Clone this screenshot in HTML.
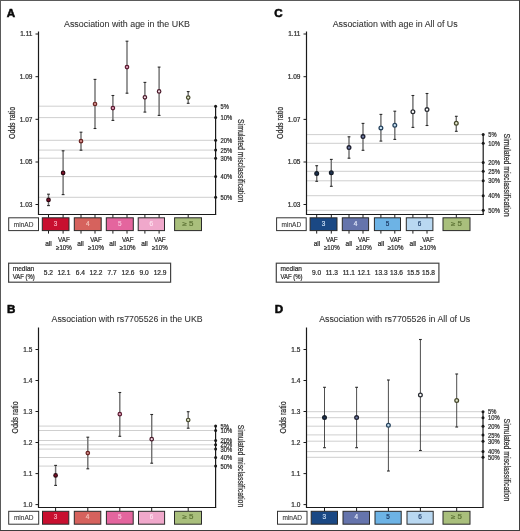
<!DOCTYPE html>
<html><head><meta charset="utf-8"><style>
html,body{margin:0;padding:0;background:#fff;}
body{width:520px;height:531px;overflow:hidden;}
svg{display:block;font-family:"Liberation Sans", sans-serif;will-change:transform;}
</style></head><body>
<svg width="520" height="531" viewBox="0 0 520 531">
<rect x="0" y="0" width="520" height="531" fill="#fff"/>
<text x="6.7" y="16.8" font-size="11.6" text-anchor="start" fill="#0a0a0a" font-weight="bold" stroke="#0a0a0a" stroke-width="0.55">A</text>
<text x="64" y="26.6" font-size="8.9" text-anchor="start" fill="#333" font-weight="normal" textLength="126" lengthAdjust="spacingAndGlyphs" stroke="#333" stroke-width="0.08">Association with age in the UKB</text>
<line x1="38.5" y1="106.2" x2="215.6" y2="106.2" stroke="#c9c9c9" stroke-width="0.9"/>
<line x1="38.5" y1="117.6" x2="215.6" y2="117.6" stroke="#c9c9c9" stroke-width="0.9"/>
<line x1="38.5" y1="140.3" x2="215.6" y2="140.3" stroke="#c9c9c9" stroke-width="0.9"/>
<line x1="38.5" y1="150.1" x2="215.6" y2="150.1" stroke="#c9c9c9" stroke-width="0.9"/>
<line x1="38.5" y1="158.2" x2="215.6" y2="158.2" stroke="#c9c9c9" stroke-width="0.9"/>
<line x1="38.5" y1="176.6" x2="215.6" y2="176.6" stroke="#c9c9c9" stroke-width="0.9"/>
<line x1="38.5" y1="197.3" x2="215.6" y2="197.3" stroke="#c9c9c9" stroke-width="0.9"/>
<line x1="35.5" y1="34" x2="38.5" y2="34" stroke="#1a1a1a" stroke-width="1"/>
<text x="32.4" y="36.3" font-size="6.5" text-anchor="end" fill="#2e2e2e" font-weight="normal" stroke="#2e2e2e" stroke-width="0.22">1.11</text>
<line x1="35.5" y1="76.7" x2="38.5" y2="76.7" stroke="#1a1a1a" stroke-width="1"/>
<text x="32.4" y="79.0" font-size="6.5" text-anchor="end" fill="#2e2e2e" font-weight="normal" stroke="#2e2e2e" stroke-width="0.22">1.09</text>
<line x1="35.5" y1="119.3" x2="38.5" y2="119.3" stroke="#1a1a1a" stroke-width="1"/>
<text x="32.4" y="121.6" font-size="6.5" text-anchor="end" fill="#2e2e2e" font-weight="normal" stroke="#2e2e2e" stroke-width="0.22">1.07</text>
<line x1="35.5" y1="162" x2="38.5" y2="162" stroke="#1a1a1a" stroke-width="1"/>
<text x="32.4" y="164.3" font-size="6.5" text-anchor="end" fill="#2e2e2e" font-weight="normal" stroke="#2e2e2e" stroke-width="0.22">1.05</text>
<line x1="35.5" y1="204.5" x2="38.5" y2="204.5" stroke="#1a1a1a" stroke-width="1"/>
<text x="32.4" y="206.8" font-size="6.5" text-anchor="end" fill="#2e2e2e" font-weight="normal" stroke="#2e2e2e" stroke-width="0.22">1.03</text>
<line x1="48.5" y1="194.2" x2="48.5" y2="205.6" stroke="#727272" stroke-width="1.45"/>
<line x1="47.1" y1="194.2" x2="49.9" y2="194.2" stroke="#2a2a2a" stroke-width="1.1"/>
<line x1="47.1" y1="205.6" x2="49.9" y2="205.6" stroke="#2a2a2a" stroke-width="1.1"/>
<line x1="63.1" y1="150.8" x2="63.1" y2="194.6" stroke="#727272" stroke-width="1.45"/>
<line x1="61.7" y1="150.8" x2="64.5" y2="150.8" stroke="#2a2a2a" stroke-width="1.1"/>
<line x1="61.7" y1="194.6" x2="64.5" y2="194.6" stroke="#2a2a2a" stroke-width="1.1"/>
<line x1="81.0" y1="132.2" x2="81.0" y2="150.2" stroke="#727272" stroke-width="1.45"/>
<line x1="79.6" y1="132.2" x2="82.4" y2="132.2" stroke="#2a2a2a" stroke-width="1.1"/>
<line x1="79.6" y1="150.2" x2="82.4" y2="150.2" stroke="#2a2a2a" stroke-width="1.1"/>
<line x1="95.0" y1="79.4" x2="95.0" y2="128.5" stroke="#727272" stroke-width="1.45"/>
<line x1="93.6" y1="79.4" x2="96.4" y2="79.4" stroke="#2a2a2a" stroke-width="1.1"/>
<line x1="93.6" y1="128.5" x2="96.4" y2="128.5" stroke="#2a2a2a" stroke-width="1.1"/>
<line x1="112.9" y1="95.5" x2="112.9" y2="120.4" stroke="#727272" stroke-width="1.45"/>
<line x1="111.5" y1="95.5" x2="114.30000000000001" y2="95.5" stroke="#2a2a2a" stroke-width="1.1"/>
<line x1="111.5" y1="120.4" x2="114.30000000000001" y2="120.4" stroke="#2a2a2a" stroke-width="1.1"/>
<line x1="127.0" y1="41.2" x2="127.0" y2="93.2" stroke="#727272" stroke-width="1.45"/>
<line x1="125.6" y1="41.2" x2="128.4" y2="41.2" stroke="#2a2a2a" stroke-width="1.1"/>
<line x1="125.6" y1="93.2" x2="128.4" y2="93.2" stroke="#2a2a2a" stroke-width="1.1"/>
<line x1="144.9" y1="82.4" x2="144.9" y2="112.1" stroke="#727272" stroke-width="1.45"/>
<line x1="143.5" y1="82.4" x2="146.3" y2="82.4" stroke="#2a2a2a" stroke-width="1.1"/>
<line x1="143.5" y1="112.1" x2="146.3" y2="112.1" stroke="#2a2a2a" stroke-width="1.1"/>
<line x1="159.1" y1="67.1" x2="159.1" y2="115.4" stroke="#727272" stroke-width="1.45"/>
<line x1="157.7" y1="67.1" x2="160.5" y2="67.1" stroke="#2a2a2a" stroke-width="1.1"/>
<line x1="157.7" y1="115.4" x2="160.5" y2="115.4" stroke="#2a2a2a" stroke-width="1.1"/>
<line x1="188.2" y1="91.6" x2="188.2" y2="103.3" stroke="#727272" stroke-width="1.45"/>
<line x1="186.79999999999998" y1="91.6" x2="189.6" y2="91.6" stroke="#2a2a2a" stroke-width="1.1"/>
<line x1="186.79999999999998" y1="103.3" x2="189.6" y2="103.3" stroke="#2a2a2a" stroke-width="1.1"/>
<circle cx="48.5" cy="199.9" r="1.75" fill="#85122b" stroke="#2a0610" stroke-width="1.2"/>
<circle cx="63.1" cy="172.9" r="1.75" fill="#85122b" stroke="#2a0610" stroke-width="1.2"/>
<circle cx="81.0" cy="141.2" r="1.75" fill="#d08a88" stroke="#6a2422" stroke-width="1.2"/>
<circle cx="95.0" cy="104.0" r="1.75" fill="#d08a88" stroke="#6a2422" stroke-width="1.2"/>
<circle cx="112.9" cy="108.1" r="1.75" fill="#e2a2ba" stroke="#5a1a30" stroke-width="1.2"/>
<circle cx="127.0" cy="67.1" r="1.75" fill="#e2a2ba" stroke="#5a1a30" stroke-width="1.2"/>
<circle cx="144.9" cy="97.3" r="1.75" fill="#f5dde6" stroke="#4a1a2a" stroke-width="1.2"/>
<circle cx="159.1" cy="91.4" r="1.75" fill="#f5dde6" stroke="#4a1a2a" stroke-width="1.2"/>
<circle cx="188.2" cy="97.6" r="1.75" fill="#e6ebd0" stroke="#44462a" stroke-width="1.2"/>
<line x1="38.5" y1="31.5" x2="38.5" y2="215.0" stroke="#1a1a1a" stroke-width="1.2"/>
<line x1="38.0" y1="214.5" x2="216.2" y2="214.5" stroke="#1a1a1a" stroke-width="1.2"/>
<line x1="215.6" y1="106.2" x2="215.6" y2="214.5" stroke="#1a1a1a" stroke-width="1.2"/>
<circle cx="215.6" cy="106.2" r="1.5" fill="#1a1a1a" stroke="none" stroke-width="0"/>
<circle cx="215.6" cy="117.6" r="1.5" fill="#1a1a1a" stroke="none" stroke-width="0"/>
<circle cx="215.6" cy="140.3" r="1.5" fill="#1a1a1a" stroke="none" stroke-width="0"/>
<circle cx="215.6" cy="150.1" r="1.5" fill="#1a1a1a" stroke="none" stroke-width="0"/>
<circle cx="215.6" cy="158.2" r="1.5" fill="#1a1a1a" stroke="none" stroke-width="0"/>
<circle cx="215.6" cy="176.6" r="1.5" fill="#1a1a1a" stroke="none" stroke-width="0"/>
<circle cx="215.6" cy="197.3" r="1.5" fill="#1a1a1a" stroke="none" stroke-width="0"/>
<text x="220.6" y="108.8" font-size="6.6" text-anchor="start" fill="#2e2e2e" font-weight="normal" textLength="8.3" lengthAdjust="spacingAndGlyphs" stroke="#2e2e2e" stroke-width="0.22">5%</text>
<text x="220.6" y="120.19999999999999" font-size="6.6" text-anchor="start" fill="#2e2e2e" font-weight="normal" textLength="11.7" lengthAdjust="spacingAndGlyphs" stroke="#2e2e2e" stroke-width="0.22">10%</text>
<text x="220.6" y="142.9" font-size="6.6" text-anchor="start" fill="#2e2e2e" font-weight="normal" textLength="11.7" lengthAdjust="spacingAndGlyphs" stroke="#2e2e2e" stroke-width="0.22">20%</text>
<text x="220.6" y="152.7" font-size="6.6" text-anchor="start" fill="#2e2e2e" font-weight="normal" textLength="11.7" lengthAdjust="spacingAndGlyphs" stroke="#2e2e2e" stroke-width="0.22">25%</text>
<text x="220.6" y="160.79999999999998" font-size="6.6" text-anchor="start" fill="#2e2e2e" font-weight="normal" textLength="11.7" lengthAdjust="spacingAndGlyphs" stroke="#2e2e2e" stroke-width="0.22">30%</text>
<text x="220.6" y="179.2" font-size="6.6" text-anchor="start" fill="#2e2e2e" font-weight="normal" textLength="11.7" lengthAdjust="spacingAndGlyphs" stroke="#2e2e2e" stroke-width="0.22">40%</text>
<text x="220.6" y="199.9" font-size="6.6" text-anchor="start" fill="#2e2e2e" font-weight="normal" textLength="11.7" lengthAdjust="spacingAndGlyphs" stroke="#2e2e2e" stroke-width="0.22">50%</text>
<text x="0" y="0" font-size="8.7" fill="#2e2e2e" stroke="#2e2e2e" stroke-width="0.22" text-anchor="middle" transform="translate(14.9,123) rotate(-90)" textLength="32" lengthAdjust="spacingAndGlyphs">Odds ratio</text>
<text x="0" y="0" font-size="9" fill="#2e2e2e" stroke="#2e2e2e" stroke-width="0.22" text-anchor="middle" transform="translate(238.0,160.5) rotate(90)" textLength="83" lengthAdjust="spacingAndGlyphs">Simulated misclassification</text>
<line x1="48.5" y1="214.5" x2="48.5" y2="217.8" stroke="#1a1a1a" stroke-width="1"/>
<line x1="63.1" y1="214.5" x2="63.1" y2="217.8" stroke="#1a1a1a" stroke-width="1"/>
<line x1="81.0" y1="214.5" x2="81.0" y2="217.8" stroke="#1a1a1a" stroke-width="1"/>
<line x1="95.0" y1="214.5" x2="95.0" y2="217.8" stroke="#1a1a1a" stroke-width="1"/>
<line x1="112.9" y1="214.5" x2="112.9" y2="217.8" stroke="#1a1a1a" stroke-width="1"/>
<line x1="127.0" y1="214.5" x2="127.0" y2="217.8" stroke="#1a1a1a" stroke-width="1"/>
<line x1="144.9" y1="214.5" x2="144.9" y2="217.8" stroke="#1a1a1a" stroke-width="1"/>
<line x1="159.1" y1="214.5" x2="159.1" y2="217.8" stroke="#1a1a1a" stroke-width="1"/>
<line x1="188.2" y1="214.5" x2="188.2" y2="217.8" stroke="#1a1a1a" stroke-width="1"/>
<line x1="48.5" y1="230.60000000000002" x2="48.5" y2="233.60000000000002" stroke="#1a1a1a" stroke-width="1"/>
<line x1="63.1" y1="230.60000000000002" x2="63.1" y2="233.60000000000002" stroke="#1a1a1a" stroke-width="1"/>
<line x1="81.0" y1="230.60000000000002" x2="81.0" y2="233.60000000000002" stroke="#1a1a1a" stroke-width="1"/>
<line x1="95.0" y1="230.60000000000002" x2="95.0" y2="233.60000000000002" stroke="#1a1a1a" stroke-width="1"/>
<line x1="112.9" y1="230.60000000000002" x2="112.9" y2="233.60000000000002" stroke="#1a1a1a" stroke-width="1"/>
<line x1="127.0" y1="230.60000000000002" x2="127.0" y2="233.60000000000002" stroke="#1a1a1a" stroke-width="1"/>
<line x1="144.9" y1="230.60000000000002" x2="144.9" y2="233.60000000000002" stroke="#1a1a1a" stroke-width="1"/>
<line x1="159.1" y1="230.60000000000002" x2="159.1" y2="233.60000000000002" stroke="#1a1a1a" stroke-width="1"/>
<rect x="8.7" y="217.8" width="29.8" height="12.8" fill="#fff" stroke="#333" stroke-width="1"/>
<text x="23.6" y="226.5" font-size="6.6" text-anchor="middle" fill="#3a3a3a" font-weight="normal" textLength="19.6" lengthAdjust="spacingAndGlyphs" stroke="#3a3a3a" stroke-width="0.1">minAD</text>
<rect x="42.3" y="217.8" width="26.700000000000003" height="12.8" fill="#c80f2f" stroke="#2a2a2a" stroke-width="1"/>
<text x="55.65" y="225.8" font-size="6.4" text-anchor="middle" fill="#f7a8b8" font-weight="normal" stroke="#f7a8b8" stroke-width="0.22">3</text>
<rect x="74.3" y="217.8" width="26.900000000000006" height="12.8" fill="#d6625d" stroke="#2a2a2a" stroke-width="1"/>
<text x="87.75" y="225.8" font-size="6.4" text-anchor="middle" fill="#f4c0b8" font-weight="normal" stroke="#f4c0b8" stroke-width="0.22">4</text>
<rect x="106.3" y="217.8" width="27.000000000000014" height="12.8" fill="#e4659e" stroke="#2a2a2a" stroke-width="1"/>
<text x="119.80000000000001" y="225.8" font-size="6.4" text-anchor="middle" fill="#f8bcd8" font-weight="normal" stroke="#f8bcd8" stroke-width="0.22">5</text>
<rect x="138.2" y="217.8" width="26.30000000000001" height="12.8" fill="#f0a8cb" stroke="#2a2a2a" stroke-width="1"/>
<text x="151.35" y="225.8" font-size="6.4" text-anchor="middle" fill="#fde0ee" font-weight="normal" stroke="#fde0ee" stroke-width="0.22">6</text>
<rect x="174.6" y="217.8" width="26.900000000000006" height="12.8" fill="#a9bf7c" stroke="#2a2a2a" stroke-width="1"/>
<text x="188.05" y="225.8" font-size="6.4" text-anchor="middle" fill="#5e7436" font-weight="normal" textLength="11" lengthAdjust="spacingAndGlyphs" stroke="#5e7436" stroke-width="0.22">≥ 5</text>
<text x="48.5" y="246.3" font-size="6.6" text-anchor="middle" fill="#2e2e2e" font-weight="normal" textLength="6.6" lengthAdjust="spacingAndGlyphs" stroke="#2e2e2e" stroke-width="0.22">all</text>
<text x="80.5" y="246.3" font-size="6.6" text-anchor="middle" fill="#2e2e2e" font-weight="normal" textLength="6.6" lengthAdjust="spacingAndGlyphs" stroke="#2e2e2e" stroke-width="0.22">all</text>
<text x="112.6" y="246.3" font-size="6.6" text-anchor="middle" fill="#2e2e2e" font-weight="normal" textLength="6.6" lengthAdjust="spacingAndGlyphs" stroke="#2e2e2e" stroke-width="0.22">all</text>
<text x="144.5" y="246.3" font-size="6.6" text-anchor="middle" fill="#2e2e2e" font-weight="normal" textLength="6.6" lengthAdjust="spacingAndGlyphs" stroke="#2e2e2e" stroke-width="0.22">all</text>
<text x="63.9" y="242.4" font-size="6.6" text-anchor="middle" fill="#2e2e2e" font-weight="normal" textLength="11.6" lengthAdjust="spacingAndGlyphs" stroke="#2e2e2e" stroke-width="0.22">VAF</text>
<text x="63.9" y="250.2" font-size="6.6" text-anchor="middle" fill="#2e2e2e" font-weight="normal" textLength="15.8" lengthAdjust="spacingAndGlyphs" stroke="#2e2e2e" stroke-width="0.22">≥10%</text>
<text x="96.0" y="242.4" font-size="6.6" text-anchor="middle" fill="#2e2e2e" font-weight="normal" textLength="11.6" lengthAdjust="spacingAndGlyphs" stroke="#2e2e2e" stroke-width="0.22">VAF</text>
<text x="96.0" y="250.2" font-size="6.6" text-anchor="middle" fill="#2e2e2e" font-weight="normal" textLength="15.8" lengthAdjust="spacingAndGlyphs" stroke="#2e2e2e" stroke-width="0.22">≥10%</text>
<text x="127.7" y="242.4" font-size="6.6" text-anchor="middle" fill="#2e2e2e" font-weight="normal" textLength="11.6" lengthAdjust="spacingAndGlyphs" stroke="#2e2e2e" stroke-width="0.22">VAF</text>
<text x="127.7" y="250.2" font-size="6.6" text-anchor="middle" fill="#2e2e2e" font-weight="normal" textLength="15.8" lengthAdjust="spacingAndGlyphs" stroke="#2e2e2e" stroke-width="0.22">≥10%</text>
<text x="159.8" y="242.4" font-size="6.6" text-anchor="middle" fill="#2e2e2e" font-weight="normal" textLength="11.6" lengthAdjust="spacingAndGlyphs" stroke="#2e2e2e" stroke-width="0.22">VAF</text>
<text x="159.8" y="250.2" font-size="6.6" text-anchor="middle" fill="#2e2e2e" font-weight="normal" textLength="15.8" lengthAdjust="spacingAndGlyphs" stroke="#2e2e2e" stroke-width="0.22">≥10%</text>
<rect x="8.6" y="263.2" width="162.0" height="19.0" fill="#fff" stroke="#444" stroke-width="1.2"/>
<text x="12.8" y="270.9" font-size="6.6" text-anchor="start" fill="#2e2e2e" font-weight="normal" textLength="21.4" lengthAdjust="spacingAndGlyphs" stroke="#2e2e2e" stroke-width="0.22">median</text>
<text x="12.8" y="278.8" font-size="6.6" text-anchor="start" fill="#2e2e2e" font-weight="normal" textLength="22" lengthAdjust="spacingAndGlyphs" stroke="#2e2e2e" stroke-width="0.22">VAF (%)</text>
<text x="48.4" y="275.3" font-size="6.6" text-anchor="middle" fill="#2e2e2e" font-weight="normal" stroke="#2e2e2e" stroke-width="0.22">5.2</text>
<text x="63.9" y="275.3" font-size="6.6" text-anchor="middle" fill="#2e2e2e" font-weight="normal" stroke="#2e2e2e" stroke-width="0.22">12.1</text>
<text x="80.4" y="275.3" font-size="6.6" text-anchor="middle" fill="#2e2e2e" font-weight="normal" stroke="#2e2e2e" stroke-width="0.22">6.4</text>
<text x="96.0" y="275.3" font-size="6.6" text-anchor="middle" fill="#2e2e2e" font-weight="normal" stroke="#2e2e2e" stroke-width="0.22">12.2</text>
<text x="112.0" y="275.3" font-size="6.6" text-anchor="middle" fill="#2e2e2e" font-weight="normal" stroke="#2e2e2e" stroke-width="0.22">7.7</text>
<text x="128.0" y="275.3" font-size="6.6" text-anchor="middle" fill="#2e2e2e" font-weight="normal" stroke="#2e2e2e" stroke-width="0.22">12.6</text>
<text x="144.2" y="275.3" font-size="6.6" text-anchor="middle" fill="#2e2e2e" font-weight="normal" stroke="#2e2e2e" stroke-width="0.22">9.0</text>
<text x="160.1" y="275.3" font-size="6.6" text-anchor="middle" fill="#2e2e2e" font-weight="normal" stroke="#2e2e2e" stroke-width="0.22">12.9</text>
<text x="274.3" y="16.8" font-size="11.6" text-anchor="start" fill="#0a0a0a" font-weight="bold" stroke="#0a0a0a" stroke-width="0.55">C</text>
<text x="332.7" y="26.6" font-size="8.9" text-anchor="start" fill="#333" font-weight="normal" textLength="125" lengthAdjust="spacingAndGlyphs" stroke="#333" stroke-width="0.08">Association with age in All of Us</text>
<line x1="306.5" y1="134.6" x2="483.2" y2="134.6" stroke="#c9c9c9" stroke-width="0.9"/>
<line x1="306.5" y1="143.3" x2="483.2" y2="143.3" stroke="#c9c9c9" stroke-width="0.9"/>
<line x1="306.5" y1="162.4" x2="483.2" y2="162.4" stroke="#c9c9c9" stroke-width="0.9"/>
<line x1="306.5" y1="171.3" x2="483.2" y2="171.3" stroke="#c9c9c9" stroke-width="0.9"/>
<line x1="306.5" y1="180.8" x2="483.2" y2="180.8" stroke="#c9c9c9" stroke-width="0.9"/>
<line x1="306.5" y1="195.7" x2="483.2" y2="195.7" stroke="#c9c9c9" stroke-width="0.9"/>
<line x1="306.5" y1="210.3" x2="483.2" y2="210.3" stroke="#c9c9c9" stroke-width="0.9"/>
<line x1="303.5" y1="34" x2="306.5" y2="34" stroke="#1a1a1a" stroke-width="1"/>
<text x="300.4" y="36.3" font-size="6.5" text-anchor="end" fill="#2e2e2e" font-weight="normal" stroke="#2e2e2e" stroke-width="0.22">1.11</text>
<line x1="303.5" y1="76.7" x2="306.5" y2="76.7" stroke="#1a1a1a" stroke-width="1"/>
<text x="300.4" y="79.0" font-size="6.5" text-anchor="end" fill="#2e2e2e" font-weight="normal" stroke="#2e2e2e" stroke-width="0.22">1.09</text>
<line x1="303.5" y1="119.4" x2="306.5" y2="119.4" stroke="#1a1a1a" stroke-width="1"/>
<text x="300.4" y="121.7" font-size="6.5" text-anchor="end" fill="#2e2e2e" font-weight="normal" stroke="#2e2e2e" stroke-width="0.22">1.07</text>
<line x1="303.5" y1="162" x2="306.5" y2="162" stroke="#1a1a1a" stroke-width="1"/>
<text x="300.4" y="164.3" font-size="6.5" text-anchor="end" fill="#2e2e2e" font-weight="normal" stroke="#2e2e2e" stroke-width="0.22">1.05</text>
<line x1="303.5" y1="204.5" x2="306.5" y2="204.5" stroke="#1a1a1a" stroke-width="1"/>
<text x="300.4" y="206.8" font-size="6.5" text-anchor="end" fill="#2e2e2e" font-weight="normal" stroke="#2e2e2e" stroke-width="0.22">1.03</text>
<line x1="316.7" y1="165.7" x2="316.7" y2="181.3" stroke="#727272" stroke-width="1.45"/>
<line x1="315.3" y1="165.7" x2="318.09999999999997" y2="165.7" stroke="#2a2a2a" stroke-width="1.1"/>
<line x1="315.3" y1="181.3" x2="318.09999999999997" y2="181.3" stroke="#2a2a2a" stroke-width="1.1"/>
<line x1="331.3" y1="159.4" x2="331.3" y2="186.3" stroke="#727272" stroke-width="1.45"/>
<line x1="329.90000000000003" y1="159.4" x2="332.7" y2="159.4" stroke="#2a2a2a" stroke-width="1.1"/>
<line x1="329.90000000000003" y1="186.3" x2="332.7" y2="186.3" stroke="#2a2a2a" stroke-width="1.1"/>
<line x1="349.0" y1="136.8" x2="349.0" y2="158.2" stroke="#727272" stroke-width="1.45"/>
<line x1="347.6" y1="136.8" x2="350.4" y2="136.8" stroke="#2a2a2a" stroke-width="1.1"/>
<line x1="347.6" y1="158.2" x2="350.4" y2="158.2" stroke="#2a2a2a" stroke-width="1.1"/>
<line x1="363.0" y1="123.4" x2="363.0" y2="150.3" stroke="#727272" stroke-width="1.45"/>
<line x1="361.6" y1="123.4" x2="364.4" y2="123.4" stroke="#2a2a2a" stroke-width="1.1"/>
<line x1="361.6" y1="150.3" x2="364.4" y2="150.3" stroke="#2a2a2a" stroke-width="1.1"/>
<line x1="380.9" y1="114.4" x2="380.9" y2="141.1" stroke="#727272" stroke-width="1.45"/>
<line x1="379.5" y1="114.4" x2="382.29999999999995" y2="114.4" stroke="#2a2a2a" stroke-width="1.1"/>
<line x1="379.5" y1="141.1" x2="382.29999999999995" y2="141.1" stroke="#2a2a2a" stroke-width="1.1"/>
<line x1="394.8" y1="111.2" x2="394.8" y2="139.4" stroke="#727272" stroke-width="1.45"/>
<line x1="393.40000000000003" y1="111.2" x2="396.2" y2="111.2" stroke="#2a2a2a" stroke-width="1.1"/>
<line x1="393.40000000000003" y1="139.4" x2="396.2" y2="139.4" stroke="#2a2a2a" stroke-width="1.1"/>
<line x1="412.9" y1="95.5" x2="412.9" y2="127.4" stroke="#727272" stroke-width="1.45"/>
<line x1="411.5" y1="95.5" x2="414.29999999999995" y2="95.5" stroke="#2a2a2a" stroke-width="1.1"/>
<line x1="411.5" y1="127.4" x2="414.29999999999995" y2="127.4" stroke="#2a2a2a" stroke-width="1.1"/>
<line x1="427.0" y1="93.5" x2="427.0" y2="125.5" stroke="#727272" stroke-width="1.45"/>
<line x1="425.6" y1="93.5" x2="428.4" y2="93.5" stroke="#2a2a2a" stroke-width="1.1"/>
<line x1="425.6" y1="125.5" x2="428.4" y2="125.5" stroke="#2a2a2a" stroke-width="1.1"/>
<line x1="456.3" y1="116.3" x2="456.3" y2="131.3" stroke="#727272" stroke-width="1.45"/>
<line x1="454.90000000000003" y1="116.3" x2="457.7" y2="116.3" stroke="#2a2a2a" stroke-width="1.1"/>
<line x1="454.90000000000003" y1="131.3" x2="457.7" y2="131.3" stroke="#2a2a2a" stroke-width="1.1"/>
<circle cx="316.7" cy="173.4" r="1.85" fill="#1e3554" stroke="#121a26" stroke-width="1.3"/>
<circle cx="331.3" cy="172.8" r="1.85" fill="#1e3554" stroke="#121a26" stroke-width="1.3"/>
<circle cx="349.0" cy="147.6" r="1.85" fill="#7580a8" stroke="#1e2030" stroke-width="1.3"/>
<circle cx="363.0" cy="136.6" r="1.85" fill="#7580a8" stroke="#1e2030" stroke-width="1.3"/>
<circle cx="380.9" cy="127.9" r="1.85" fill="#c8e2f2" stroke="#27435e" stroke-width="1.3"/>
<circle cx="394.8" cy="125.2" r="1.85" fill="#c8e2f2" stroke="#27435e" stroke-width="1.3"/>
<circle cx="412.9" cy="111.7" r="1.85" fill="#ffffff" stroke="#2a2d33" stroke-width="1.3"/>
<circle cx="427.0" cy="109.6" r="1.85" fill="#ffffff" stroke="#2a2d33" stroke-width="1.3"/>
<circle cx="456.3" cy="123.3" r="1.85" fill="#e6ebd0" stroke="#44462a" stroke-width="1.3"/>
<line x1="306.5" y1="31.5" x2="306.5" y2="215.0" stroke="#1a1a1a" stroke-width="1.2"/>
<line x1="306.0" y1="214.5" x2="483.8" y2="214.5" stroke="#1a1a1a" stroke-width="1.2"/>
<line x1="483.2" y1="134.6" x2="483.2" y2="214.5" stroke="#1a1a1a" stroke-width="1.2"/>
<circle cx="483.2" cy="134.6" r="1.5" fill="#1a1a1a" stroke="none" stroke-width="0"/>
<circle cx="483.2" cy="143.3" r="1.5" fill="#1a1a1a" stroke="none" stroke-width="0"/>
<circle cx="483.2" cy="162.4" r="1.5" fill="#1a1a1a" stroke="none" stroke-width="0"/>
<circle cx="483.2" cy="171.3" r="1.5" fill="#1a1a1a" stroke="none" stroke-width="0"/>
<circle cx="483.2" cy="180.8" r="1.5" fill="#1a1a1a" stroke="none" stroke-width="0"/>
<circle cx="483.2" cy="195.7" r="1.5" fill="#1a1a1a" stroke="none" stroke-width="0"/>
<circle cx="483.2" cy="210.3" r="1.5" fill="#1a1a1a" stroke="none" stroke-width="0"/>
<text x="488.2" y="137.2" font-size="6.6" text-anchor="start" fill="#2e2e2e" font-weight="normal" textLength="8.3" lengthAdjust="spacingAndGlyphs" stroke="#2e2e2e" stroke-width="0.22">5%</text>
<text x="488.2" y="145.9" font-size="6.6" text-anchor="start" fill="#2e2e2e" font-weight="normal" textLength="11.7" lengthAdjust="spacingAndGlyphs" stroke="#2e2e2e" stroke-width="0.22">10%</text>
<text x="488.2" y="165.0" font-size="6.6" text-anchor="start" fill="#2e2e2e" font-weight="normal" textLength="11.7" lengthAdjust="spacingAndGlyphs" stroke="#2e2e2e" stroke-width="0.22">20%</text>
<text x="488.2" y="173.9" font-size="6.6" text-anchor="start" fill="#2e2e2e" font-weight="normal" textLength="11.7" lengthAdjust="spacingAndGlyphs" stroke="#2e2e2e" stroke-width="0.22">25%</text>
<text x="488.2" y="183.4" font-size="6.6" text-anchor="start" fill="#2e2e2e" font-weight="normal" textLength="11.7" lengthAdjust="spacingAndGlyphs" stroke="#2e2e2e" stroke-width="0.22">30%</text>
<text x="488.2" y="198.29999999999998" font-size="6.6" text-anchor="start" fill="#2e2e2e" font-weight="normal" textLength="11.7" lengthAdjust="spacingAndGlyphs" stroke="#2e2e2e" stroke-width="0.22">40%</text>
<text x="488.2" y="212.9" font-size="6.6" text-anchor="start" fill="#2e2e2e" font-weight="normal" textLength="11.7" lengthAdjust="spacingAndGlyphs" stroke="#2e2e2e" stroke-width="0.22">50%</text>
<text x="0" y="0" font-size="8.7" fill="#2e2e2e" stroke="#2e2e2e" stroke-width="0.22" text-anchor="middle" transform="translate(282.8,123) rotate(-90)" textLength="32" lengthAdjust="spacingAndGlyphs">Odds ratio</text>
<text x="0" y="0" font-size="9" fill="#2e2e2e" stroke="#2e2e2e" stroke-width="0.22" text-anchor="middle" transform="translate(504.4,175) rotate(90)" textLength="83" lengthAdjust="spacingAndGlyphs">Simulated misclassification</text>
<line x1="316.7" y1="214.5" x2="316.7" y2="217.8" stroke="#1a1a1a" stroke-width="1"/>
<line x1="331.3" y1="214.5" x2="331.3" y2="217.8" stroke="#1a1a1a" stroke-width="1"/>
<line x1="349.0" y1="214.5" x2="349.0" y2="217.8" stroke="#1a1a1a" stroke-width="1"/>
<line x1="363.0" y1="214.5" x2="363.0" y2="217.8" stroke="#1a1a1a" stroke-width="1"/>
<line x1="380.9" y1="214.5" x2="380.9" y2="217.8" stroke="#1a1a1a" stroke-width="1"/>
<line x1="394.8" y1="214.5" x2="394.8" y2="217.8" stroke="#1a1a1a" stroke-width="1"/>
<line x1="412.9" y1="214.5" x2="412.9" y2="217.8" stroke="#1a1a1a" stroke-width="1"/>
<line x1="427.0" y1="214.5" x2="427.0" y2="217.8" stroke="#1a1a1a" stroke-width="1"/>
<line x1="456.3" y1="214.5" x2="456.3" y2="217.8" stroke="#1a1a1a" stroke-width="1"/>
<line x1="316.7" y1="230.60000000000002" x2="316.7" y2="233.60000000000002" stroke="#1a1a1a" stroke-width="1"/>
<line x1="331.3" y1="230.60000000000002" x2="331.3" y2="233.60000000000002" stroke="#1a1a1a" stroke-width="1"/>
<line x1="349.0" y1="230.60000000000002" x2="349.0" y2="233.60000000000002" stroke="#1a1a1a" stroke-width="1"/>
<line x1="363.0" y1="230.60000000000002" x2="363.0" y2="233.60000000000002" stroke="#1a1a1a" stroke-width="1"/>
<line x1="380.9" y1="230.60000000000002" x2="380.9" y2="233.60000000000002" stroke="#1a1a1a" stroke-width="1"/>
<line x1="394.8" y1="230.60000000000002" x2="394.8" y2="233.60000000000002" stroke="#1a1a1a" stroke-width="1"/>
<line x1="412.9" y1="230.60000000000002" x2="412.9" y2="233.60000000000002" stroke="#1a1a1a" stroke-width="1"/>
<line x1="427.0" y1="230.60000000000002" x2="427.0" y2="233.60000000000002" stroke="#1a1a1a" stroke-width="1"/>
<rect x="276.6" y="217.8" width="29.599999999999966" height="12.8" fill="#fff" stroke="#333" stroke-width="1"/>
<text x="291.4" y="226.5" font-size="6.6" text-anchor="middle" fill="#3a3a3a" font-weight="normal" textLength="19.6" lengthAdjust="spacingAndGlyphs" stroke="#3a3a3a" stroke-width="0.1">minAD</text>
<rect x="310.1" y="217.8" width="26.899999999999977" height="12.8" fill="#1a4884" stroke="#2a2a2a" stroke-width="1"/>
<text x="323.55" y="225.8" font-size="6.4" text-anchor="middle" fill="#c8dcf4" font-weight="normal" stroke="#c8dcf4" stroke-width="0.22">3</text>
<rect x="342.3" y="217.8" width="26.30000000000001" height="12.8" fill="#6574ac" stroke="#2a2a2a" stroke-width="1"/>
<text x="355.45000000000005" y="225.8" font-size="6.4" text-anchor="middle" fill="#dde4f6" font-weight="normal" stroke="#dde4f6" stroke-width="0.22">4</text>
<rect x="374.4" y="217.8" width="26.100000000000023" height="12.8" fill="#6db3e5" stroke="#2a2a2a" stroke-width="1"/>
<text x="387.45" y="225.8" font-size="6.4" text-anchor="middle" fill="#1c3a64" font-weight="normal" stroke="#1c3a64" stroke-width="0.22">5</text>
<rect x="406.3" y="217.8" width="26.599999999999966" height="12.8" fill="#b9d8f1" stroke="#2a2a2a" stroke-width="1"/>
<text x="419.6" y="225.8" font-size="6.4" text-anchor="middle" fill="#2a4a74" font-weight="normal" stroke="#2a4a74" stroke-width="0.22">6</text>
<rect x="443.0" y="217.8" width="27.0" height="12.8" fill="#a9bf7c" stroke="#2a2a2a" stroke-width="1"/>
<text x="456.5" y="225.8" font-size="6.4" text-anchor="middle" fill="#5e7436" font-weight="normal" textLength="11" lengthAdjust="spacingAndGlyphs" stroke="#5e7436" stroke-width="0.22">≥ 5</text>
<text x="317.0" y="246.3" font-size="6.6" text-anchor="middle" fill="#2e2e2e" font-weight="normal" textLength="6.6" lengthAdjust="spacingAndGlyphs" stroke="#2e2e2e" stroke-width="0.22">all</text>
<text x="348.8" y="246.3" font-size="6.6" text-anchor="middle" fill="#2e2e2e" font-weight="normal" textLength="6.6" lengthAdjust="spacingAndGlyphs" stroke="#2e2e2e" stroke-width="0.22">all</text>
<text x="381.0" y="246.3" font-size="6.6" text-anchor="middle" fill="#2e2e2e" font-weight="normal" textLength="6.6" lengthAdjust="spacingAndGlyphs" stroke="#2e2e2e" stroke-width="0.22">all</text>
<text x="412.8" y="246.3" font-size="6.6" text-anchor="middle" fill="#2e2e2e" font-weight="normal" textLength="6.6" lengthAdjust="spacingAndGlyphs" stroke="#2e2e2e" stroke-width="0.22">all</text>
<text x="331.8" y="242.4" font-size="6.6" text-anchor="middle" fill="#2e2e2e" font-weight="normal" textLength="11.6" lengthAdjust="spacingAndGlyphs" stroke="#2e2e2e" stroke-width="0.22">VAF</text>
<text x="331.8" y="250.2" font-size="6.6" text-anchor="middle" fill="#2e2e2e" font-weight="normal" textLength="15.8" lengthAdjust="spacingAndGlyphs" stroke="#2e2e2e" stroke-width="0.22">≥10%</text>
<text x="363.8" y="242.4" font-size="6.6" text-anchor="middle" fill="#2e2e2e" font-weight="normal" textLength="11.6" lengthAdjust="spacingAndGlyphs" stroke="#2e2e2e" stroke-width="0.22">VAF</text>
<text x="363.8" y="250.2" font-size="6.6" text-anchor="middle" fill="#2e2e2e" font-weight="normal" textLength="15.8" lengthAdjust="spacingAndGlyphs" stroke="#2e2e2e" stroke-width="0.22">≥10%</text>
<text x="395.6" y="242.4" font-size="6.6" text-anchor="middle" fill="#2e2e2e" font-weight="normal" textLength="11.6" lengthAdjust="spacingAndGlyphs" stroke="#2e2e2e" stroke-width="0.22">VAF</text>
<text x="395.6" y="250.2" font-size="6.6" text-anchor="middle" fill="#2e2e2e" font-weight="normal" textLength="15.8" lengthAdjust="spacingAndGlyphs" stroke="#2e2e2e" stroke-width="0.22">≥10%</text>
<text x="428.0" y="242.4" font-size="6.6" text-anchor="middle" fill="#2e2e2e" font-weight="normal" textLength="11.6" lengthAdjust="spacingAndGlyphs" stroke="#2e2e2e" stroke-width="0.22">VAF</text>
<text x="428.0" y="250.2" font-size="6.6" text-anchor="middle" fill="#2e2e2e" font-weight="normal" textLength="15.8" lengthAdjust="spacingAndGlyphs" stroke="#2e2e2e" stroke-width="0.22">≥10%</text>
<rect x="276.3" y="263.2" width="162.59999999999997" height="19.0" fill="#fff" stroke="#444" stroke-width="1.2"/>
<text x="280.5" y="270.9" font-size="6.6" text-anchor="start" fill="#2e2e2e" font-weight="normal" textLength="21.4" lengthAdjust="spacingAndGlyphs" stroke="#2e2e2e" stroke-width="0.22">median</text>
<text x="280.5" y="278.8" font-size="6.6" text-anchor="start" fill="#2e2e2e" font-weight="normal" textLength="22" lengthAdjust="spacingAndGlyphs" stroke="#2e2e2e" stroke-width="0.22">VAF (%)</text>
<text x="316.6" y="275.3" font-size="6.6" text-anchor="middle" fill="#2e2e2e" font-weight="normal" stroke="#2e2e2e" stroke-width="0.22">9.0</text>
<text x="331.8" y="275.3" font-size="6.6" text-anchor="middle" fill="#2e2e2e" font-weight="normal" stroke="#2e2e2e" stroke-width="0.22">11.3</text>
<text x="348.8" y="275.3" font-size="6.6" text-anchor="middle" fill="#2e2e2e" font-weight="normal" stroke="#2e2e2e" stroke-width="0.22">11.1</text>
<text x="364.0" y="275.3" font-size="6.6" text-anchor="middle" fill="#2e2e2e" font-weight="normal" stroke="#2e2e2e" stroke-width="0.22">12.1</text>
<text x="381.2" y="275.3" font-size="6.6" text-anchor="middle" fill="#2e2e2e" font-weight="normal" stroke="#2e2e2e" stroke-width="0.22">13.3</text>
<text x="396.5" y="275.3" font-size="6.6" text-anchor="middle" fill="#2e2e2e" font-weight="normal" stroke="#2e2e2e" stroke-width="0.22">13.6</text>
<text x="413.3" y="275.3" font-size="6.6" text-anchor="middle" fill="#2e2e2e" font-weight="normal" stroke="#2e2e2e" stroke-width="0.22">15.5</text>
<text x="428.5" y="275.3" font-size="6.6" text-anchor="middle" fill="#2e2e2e" font-weight="normal" stroke="#2e2e2e" stroke-width="0.22">15.8</text>
<text x="6.9" y="312.5" font-size="11.6" text-anchor="start" fill="#0a0a0a" font-weight="bold" stroke="#0a0a0a" stroke-width="0.55">B</text>
<text x="51.6" y="322.2" font-size="8.9" text-anchor="start" fill="#333" font-weight="normal" textLength="151" lengthAdjust="spacingAndGlyphs" stroke="#333" stroke-width="0.08">Association with rs7705526 in the UKB</text>
<line x1="38.5" y1="426.1" x2="215.6" y2="426.1" stroke="#c9c9c9" stroke-width="0.9"/>
<line x1="38.5" y1="430.5" x2="215.6" y2="430.5" stroke="#c9c9c9" stroke-width="0.9"/>
<line x1="38.5" y1="440.5" x2="215.6" y2="440.5" stroke="#c9c9c9" stroke-width="0.9"/>
<line x1="38.5" y1="444.8" x2="215.6" y2="444.8" stroke="#c9c9c9" stroke-width="0.9"/>
<line x1="38.5" y1="449.1" x2="215.6" y2="449.1" stroke="#c9c9c9" stroke-width="0.9"/>
<line x1="38.5" y1="457.5" x2="215.6" y2="457.5" stroke="#c9c9c9" stroke-width="0.9"/>
<line x1="38.5" y1="466.1" x2="215.6" y2="466.1" stroke="#c9c9c9" stroke-width="0.9"/>
<line x1="35.5" y1="349.5" x2="38.5" y2="349.5" stroke="#1a1a1a" stroke-width="1"/>
<text x="32.4" y="351.8" font-size="6.5" text-anchor="end" fill="#2e2e2e" font-weight="normal" stroke="#2e2e2e" stroke-width="0.22">1.5</text>
<line x1="35.5" y1="380.5" x2="38.5" y2="380.5" stroke="#1a1a1a" stroke-width="1"/>
<text x="32.4" y="382.8" font-size="6.5" text-anchor="end" fill="#2e2e2e" font-weight="normal" stroke="#2e2e2e" stroke-width="0.22">1.4</text>
<line x1="35.5" y1="411.5" x2="38.5" y2="411.5" stroke="#1a1a1a" stroke-width="1"/>
<text x="32.4" y="413.8" font-size="6.5" text-anchor="end" fill="#2e2e2e" font-weight="normal" stroke="#2e2e2e" stroke-width="0.22">1.3</text>
<line x1="35.5" y1="442.5" x2="38.5" y2="442.5" stroke="#1a1a1a" stroke-width="1"/>
<text x="32.4" y="444.8" font-size="6.5" text-anchor="end" fill="#2e2e2e" font-weight="normal" stroke="#2e2e2e" stroke-width="0.22">1.2</text>
<line x1="35.5" y1="473.6" x2="38.5" y2="473.6" stroke="#1a1a1a" stroke-width="1"/>
<text x="32.4" y="475.90000000000003" font-size="6.5" text-anchor="end" fill="#2e2e2e" font-weight="normal" stroke="#2e2e2e" stroke-width="0.22">1.1</text>
<line x1="35.5" y1="504.6" x2="38.5" y2="504.6" stroke="#1a1a1a" stroke-width="1"/>
<text x="32.4" y="506.90000000000003" font-size="6.5" text-anchor="end" fill="#2e2e2e" font-weight="normal" stroke="#2e2e2e" stroke-width="0.22">1.0</text>
<line x1="55.6" y1="465.4" x2="55.6" y2="485.4" stroke="#727272" stroke-width="1.45"/>
<line x1="54.2" y1="465.4" x2="57.0" y2="465.4" stroke="#2a2a2a" stroke-width="1.1"/>
<line x1="54.2" y1="485.4" x2="57.0" y2="485.4" stroke="#2a2a2a" stroke-width="1.1"/>
<line x1="87.8" y1="437.2" x2="87.8" y2="468.8" stroke="#727272" stroke-width="1.45"/>
<line x1="86.39999999999999" y1="437.2" x2="89.2" y2="437.2" stroke="#2a2a2a" stroke-width="1.1"/>
<line x1="86.39999999999999" y1="468.8" x2="89.2" y2="468.8" stroke="#2a2a2a" stroke-width="1.1"/>
<line x1="119.8" y1="392.5" x2="119.8" y2="436.3" stroke="#727272" stroke-width="1.45"/>
<line x1="118.39999999999999" y1="392.5" x2="121.2" y2="392.5" stroke="#2a2a2a" stroke-width="1.1"/>
<line x1="118.39999999999999" y1="436.3" x2="121.2" y2="436.3" stroke="#2a2a2a" stroke-width="1.1"/>
<line x1="151.7" y1="414.5" x2="151.7" y2="463.2" stroke="#727272" stroke-width="1.45"/>
<line x1="150.29999999999998" y1="414.5" x2="153.1" y2="414.5" stroke="#2a2a2a" stroke-width="1.1"/>
<line x1="150.29999999999998" y1="463.2" x2="153.1" y2="463.2" stroke="#2a2a2a" stroke-width="1.1"/>
<line x1="188.2" y1="411.7" x2="188.2" y2="428.2" stroke="#727272" stroke-width="1.45"/>
<line x1="186.79999999999998" y1="411.7" x2="189.6" y2="411.7" stroke="#2a2a2a" stroke-width="1.1"/>
<line x1="186.79999999999998" y1="428.2" x2="189.6" y2="428.2" stroke="#2a2a2a" stroke-width="1.1"/>
<circle cx="55.6" cy="475.4" r="1.75" fill="#85122b" stroke="#2a0610" stroke-width="1.2"/>
<circle cx="87.8" cy="453.1" r="1.75" fill="#d08a88" stroke="#6a2422" stroke-width="1.2"/>
<circle cx="119.8" cy="414.2" r="1.75" fill="#e2a2ba" stroke="#5a1a30" stroke-width="1.2"/>
<circle cx="151.7" cy="439.2" r="1.75" fill="#f5dde6" stroke="#4a1a2a" stroke-width="1.2"/>
<circle cx="188.2" cy="420.0" r="1.75" fill="#e6ebd0" stroke="#44462a" stroke-width="1.2"/>
<line x1="38.5" y1="327.5" x2="38.5" y2="508.0" stroke="#1a1a1a" stroke-width="1.2"/>
<line x1="38.0" y1="507.5" x2="216.2" y2="507.5" stroke="#1a1a1a" stroke-width="1.2"/>
<line x1="215.6" y1="426.1" x2="215.6" y2="507.5" stroke="#1a1a1a" stroke-width="1.2"/>
<circle cx="215.6" cy="426.1" r="1.5" fill="#1a1a1a" stroke="none" stroke-width="0"/>
<circle cx="215.6" cy="430.5" r="1.5" fill="#1a1a1a" stroke="none" stroke-width="0"/>
<circle cx="215.6" cy="440.5" r="1.5" fill="#1a1a1a" stroke="none" stroke-width="0"/>
<circle cx="215.6" cy="444.8" r="1.5" fill="#1a1a1a" stroke="none" stroke-width="0"/>
<circle cx="215.6" cy="449.1" r="1.5" fill="#1a1a1a" stroke="none" stroke-width="0"/>
<circle cx="215.6" cy="457.5" r="1.5" fill="#1a1a1a" stroke="none" stroke-width="0"/>
<circle cx="215.6" cy="466.1" r="1.5" fill="#1a1a1a" stroke="none" stroke-width="0"/>
<text x="220.6" y="428.70000000000005" font-size="6.6" text-anchor="start" fill="#2e2e2e" font-weight="normal" textLength="8.3" lengthAdjust="spacingAndGlyphs" stroke="#2e2e2e" stroke-width="0.22">5%</text>
<text x="220.6" y="433.1" font-size="6.6" text-anchor="start" fill="#2e2e2e" font-weight="normal" textLength="11.7" lengthAdjust="spacingAndGlyphs" stroke="#2e2e2e" stroke-width="0.22">10%</text>
<text x="220.6" y="443.1" font-size="6.6" text-anchor="start" fill="#2e2e2e" font-weight="normal" textLength="11.7" lengthAdjust="spacingAndGlyphs" stroke="#2e2e2e" stroke-width="0.22">20%</text>
<text x="220.6" y="447.40000000000003" font-size="6.6" text-anchor="start" fill="#2e2e2e" font-weight="normal" textLength="11.7" lengthAdjust="spacingAndGlyphs" stroke="#2e2e2e" stroke-width="0.22">25%</text>
<text x="220.6" y="451.70000000000005" font-size="6.6" text-anchor="start" fill="#2e2e2e" font-weight="normal" textLength="11.7" lengthAdjust="spacingAndGlyphs" stroke="#2e2e2e" stroke-width="0.22">30%</text>
<text x="220.6" y="460.1" font-size="6.6" text-anchor="start" fill="#2e2e2e" font-weight="normal" textLength="11.7" lengthAdjust="spacingAndGlyphs" stroke="#2e2e2e" stroke-width="0.22">40%</text>
<text x="220.6" y="468.70000000000005" font-size="6.6" text-anchor="start" fill="#2e2e2e" font-weight="normal" textLength="11.7" lengthAdjust="spacingAndGlyphs" stroke="#2e2e2e" stroke-width="0.22">50%</text>
<text x="0" y="0" font-size="8.7" fill="#2e2e2e" stroke="#2e2e2e" stroke-width="0.22" text-anchor="middle" transform="translate(18.0,417.5) rotate(-90)" textLength="32" lengthAdjust="spacingAndGlyphs">Odds ratio</text>
<text x="0" y="0" font-size="9" fill="#2e2e2e" stroke="#2e2e2e" stroke-width="0.22" text-anchor="middle" transform="translate(237.9,466) rotate(90)" textLength="82.5" lengthAdjust="spacingAndGlyphs">Simulated misclassification</text>
<line x1="55.6" y1="507.5" x2="55.6" y2="511.3" stroke="#1a1a1a" stroke-width="1"/>
<line x1="87.8" y1="507.5" x2="87.8" y2="511.3" stroke="#1a1a1a" stroke-width="1"/>
<line x1="119.8" y1="507.5" x2="119.8" y2="511.3" stroke="#1a1a1a" stroke-width="1"/>
<line x1="151.7" y1="507.5" x2="151.7" y2="511.3" stroke="#1a1a1a" stroke-width="1"/>
<line x1="188.2" y1="507.5" x2="188.2" y2="511.3" stroke="#1a1a1a" stroke-width="1"/>
<rect x="8.7" y="511.3" width="30.000000000000004" height="12.9" fill="#fff" stroke="#333" stroke-width="1"/>
<text x="23.700000000000003" y="520.0" font-size="6.6" text-anchor="middle" fill="#3a3a3a" font-weight="normal" textLength="19.6" lengthAdjust="spacingAndGlyphs" stroke="#3a3a3a" stroke-width="0.1">minAD</text>
<rect x="42.5" y="511.3" width="26.299999999999997" height="12.9" fill="#c80f2f" stroke="#2a2a2a" stroke-width="1"/>
<text x="55.65" y="519.3" font-size="6.4" text-anchor="middle" fill="#f7a8b8" font-weight="normal" stroke="#f7a8b8" stroke-width="0.22">3</text>
<rect x="74.3" y="511.3" width="26.5" height="12.9" fill="#d6625d" stroke="#2a2a2a" stroke-width="1"/>
<text x="87.55" y="519.3" font-size="6.4" text-anchor="middle" fill="#f4c0b8" font-weight="normal" stroke="#f4c0b8" stroke-width="0.22">4</text>
<rect x="106.4" y="511.3" width="26.799999999999983" height="12.9" fill="#e4659e" stroke="#2a2a2a" stroke-width="1"/>
<text x="119.8" y="519.3" font-size="6.4" text-anchor="middle" fill="#f8bcd8" font-weight="normal" stroke="#f8bcd8" stroke-width="0.22">5</text>
<rect x="138.5" y="511.3" width="26.099999999999994" height="12.9" fill="#f0a8cb" stroke="#2a2a2a" stroke-width="1"/>
<text x="151.55" y="519.3" font-size="6.4" text-anchor="middle" fill="#fde0ee" font-weight="normal" stroke="#fde0ee" stroke-width="0.22">6</text>
<rect x="174.5" y="511.3" width="27.0" height="12.9" fill="#a9bf7c" stroke="#2a2a2a" stroke-width="1"/>
<text x="188.0" y="519.3" font-size="6.4" text-anchor="middle" fill="#5e7436" font-weight="normal" textLength="11" lengthAdjust="spacingAndGlyphs" stroke="#5e7436" stroke-width="0.22">≥ 5</text>
<text x="274.7" y="312.5" font-size="11.6" text-anchor="start" fill="#0a0a0a" font-weight="bold" stroke="#0a0a0a" stroke-width="0.55">D</text>
<text x="319.2" y="322.2" font-size="8.9" text-anchor="start" fill="#333" font-weight="normal" textLength="151" lengthAdjust="spacingAndGlyphs" stroke="#333" stroke-width="0.08">Association with rs7705526 in All of Us</text>
<line x1="306.5" y1="411.7" x2="483.0" y2="411.7" stroke="#c9c9c9" stroke-width="0.9"/>
<line x1="306.5" y1="417.7" x2="483.0" y2="417.7" stroke="#c9c9c9" stroke-width="0.9"/>
<line x1="306.5" y1="426.2" x2="483.0" y2="426.2" stroke="#c9c9c9" stroke-width="0.9"/>
<line x1="306.5" y1="434.9" x2="483.0" y2="434.9" stroke="#c9c9c9" stroke-width="0.9"/>
<line x1="306.5" y1="441.2" x2="483.0" y2="441.2" stroke="#c9c9c9" stroke-width="0.9"/>
<line x1="306.5" y1="451.6" x2="483.0" y2="451.6" stroke="#c9c9c9" stroke-width="0.9"/>
<line x1="306.5" y1="457.3" x2="483.0" y2="457.3" stroke="#c9c9c9" stroke-width="0.9"/>
<line x1="303.5" y1="349.5" x2="306.5" y2="349.5" stroke="#1a1a1a" stroke-width="1"/>
<text x="300.4" y="351.8" font-size="6.5" text-anchor="end" fill="#2e2e2e" font-weight="normal" stroke="#2e2e2e" stroke-width="0.22">1.5</text>
<line x1="303.5" y1="380.5" x2="306.5" y2="380.5" stroke="#1a1a1a" stroke-width="1"/>
<text x="300.4" y="382.8" font-size="6.5" text-anchor="end" fill="#2e2e2e" font-weight="normal" stroke="#2e2e2e" stroke-width="0.22">1.4</text>
<line x1="303.5" y1="411.5" x2="306.5" y2="411.5" stroke="#1a1a1a" stroke-width="1"/>
<text x="300.4" y="413.8" font-size="6.5" text-anchor="end" fill="#2e2e2e" font-weight="normal" stroke="#2e2e2e" stroke-width="0.22">1.3</text>
<line x1="303.5" y1="442.5" x2="306.5" y2="442.5" stroke="#1a1a1a" stroke-width="1"/>
<text x="300.4" y="444.8" font-size="6.5" text-anchor="end" fill="#2e2e2e" font-weight="normal" stroke="#2e2e2e" stroke-width="0.22">1.2</text>
<line x1="303.5" y1="473.6" x2="306.5" y2="473.6" stroke="#1a1a1a" stroke-width="1"/>
<text x="300.4" y="475.90000000000003" font-size="6.5" text-anchor="end" fill="#2e2e2e" font-weight="normal" stroke="#2e2e2e" stroke-width="0.22">1.1</text>
<line x1="303.5" y1="504.6" x2="306.5" y2="504.6" stroke="#1a1a1a" stroke-width="1"/>
<text x="300.4" y="506.90000000000003" font-size="6.5" text-anchor="end" fill="#2e2e2e" font-weight="normal" stroke="#2e2e2e" stroke-width="0.22">1.0</text>
<line x1="324.5" y1="387.3" x2="324.5" y2="447.7" stroke="#3a3a3a" stroke-width="0.9"/>
<line x1="323.1" y1="387.3" x2="325.9" y2="387.3" stroke="#2a2a2a" stroke-width="1.1"/>
<line x1="323.1" y1="447.7" x2="325.9" y2="447.7" stroke="#2a2a2a" stroke-width="1.1"/>
<line x1="356.6" y1="387.3" x2="356.6" y2="447.7" stroke="#3a3a3a" stroke-width="0.9"/>
<line x1="355.20000000000005" y1="387.3" x2="358.0" y2="387.3" stroke="#2a2a2a" stroke-width="1.1"/>
<line x1="355.20000000000005" y1="447.7" x2="358.0" y2="447.7" stroke="#2a2a2a" stroke-width="1.1"/>
<line x1="388.4" y1="380.0" x2="388.4" y2="471.0" stroke="#3a3a3a" stroke-width="0.9"/>
<line x1="387.0" y1="380.0" x2="389.79999999999995" y2="380.0" stroke="#2a2a2a" stroke-width="1.1"/>
<line x1="387.0" y1="471.0" x2="389.79999999999995" y2="471.0" stroke="#2a2a2a" stroke-width="1.1"/>
<line x1="420.4" y1="339.5" x2="420.4" y2="450.5" stroke="#3a3a3a" stroke-width="0.9"/>
<line x1="419.0" y1="339.5" x2="421.79999999999995" y2="339.5" stroke="#2a2a2a" stroke-width="1.1"/>
<line x1="419.0" y1="450.5" x2="421.79999999999995" y2="450.5" stroke="#2a2a2a" stroke-width="1.1"/>
<line x1="456.7" y1="374.0" x2="456.7" y2="427.0" stroke="#3a3a3a" stroke-width="0.9"/>
<line x1="455.3" y1="374.0" x2="458.09999999999997" y2="374.0" stroke="#2a2a2a" stroke-width="1.1"/>
<line x1="455.3" y1="427.0" x2="458.09999999999997" y2="427.0" stroke="#2a2a2a" stroke-width="1.1"/>
<circle cx="324.5" cy="417.6" r="1.85" fill="#1e3554" stroke="#121a26" stroke-width="1.3"/>
<circle cx="356.6" cy="417.6" r="1.85" fill="#7580a8" stroke="#1e2030" stroke-width="1.3"/>
<circle cx="388.4" cy="425.3" r="1.85" fill="#c8e2f2" stroke="#27435e" stroke-width="1.3"/>
<circle cx="420.4" cy="395.0" r="1.85" fill="#ffffff" stroke="#2a2d33" stroke-width="1.3"/>
<circle cx="456.7" cy="400.5" r="1.85" fill="#e6ebd0" stroke="#44462a" stroke-width="1.3"/>
<line x1="306.5" y1="327.5" x2="306.5" y2="508.0" stroke="#1a1a1a" stroke-width="1.2"/>
<line x1="306.0" y1="507.5" x2="483.6" y2="507.5" stroke="#1a1a1a" stroke-width="1.2"/>
<line x1="483.0" y1="411.7" x2="483.0" y2="507.5" stroke="#1a1a1a" stroke-width="1.2"/>
<circle cx="483.0" cy="411.7" r="1.5" fill="#1a1a1a" stroke="none" stroke-width="0"/>
<circle cx="483.0" cy="417.7" r="1.5" fill="#1a1a1a" stroke="none" stroke-width="0"/>
<circle cx="483.0" cy="426.2" r="1.5" fill="#1a1a1a" stroke="none" stroke-width="0"/>
<circle cx="483.0" cy="434.9" r="1.5" fill="#1a1a1a" stroke="none" stroke-width="0"/>
<circle cx="483.0" cy="441.2" r="1.5" fill="#1a1a1a" stroke="none" stroke-width="0"/>
<circle cx="483.0" cy="451.6" r="1.5" fill="#1a1a1a" stroke="none" stroke-width="0"/>
<circle cx="483.0" cy="457.3" r="1.5" fill="#1a1a1a" stroke="none" stroke-width="0"/>
<text x="488.0" y="414.3" font-size="6.6" text-anchor="start" fill="#2e2e2e" font-weight="normal" textLength="8.3" lengthAdjust="spacingAndGlyphs" stroke="#2e2e2e" stroke-width="0.22">5%</text>
<text x="488.0" y="420.3" font-size="6.6" text-anchor="start" fill="#2e2e2e" font-weight="normal" textLength="11.7" lengthAdjust="spacingAndGlyphs" stroke="#2e2e2e" stroke-width="0.22">10%</text>
<text x="488.0" y="428.8" font-size="6.6" text-anchor="start" fill="#2e2e2e" font-weight="normal" textLength="11.7" lengthAdjust="spacingAndGlyphs" stroke="#2e2e2e" stroke-width="0.22">20%</text>
<text x="488.0" y="437.5" font-size="6.6" text-anchor="start" fill="#2e2e2e" font-weight="normal" textLength="11.7" lengthAdjust="spacingAndGlyphs" stroke="#2e2e2e" stroke-width="0.22">25%</text>
<text x="488.0" y="443.8" font-size="6.6" text-anchor="start" fill="#2e2e2e" font-weight="normal" textLength="11.7" lengthAdjust="spacingAndGlyphs" stroke="#2e2e2e" stroke-width="0.22">30%</text>
<text x="488.0" y="454.20000000000005" font-size="6.6" text-anchor="start" fill="#2e2e2e" font-weight="normal" textLength="11.7" lengthAdjust="spacingAndGlyphs" stroke="#2e2e2e" stroke-width="0.22">40%</text>
<text x="488.0" y="459.90000000000003" font-size="6.6" text-anchor="start" fill="#2e2e2e" font-weight="normal" textLength="11.7" lengthAdjust="spacingAndGlyphs" stroke="#2e2e2e" stroke-width="0.22">50%</text>
<text x="0" y="0" font-size="8.7" fill="#2e2e2e" stroke="#2e2e2e" stroke-width="0.22" text-anchor="middle" transform="translate(286.0,417.5) rotate(-90)" textLength="32" lengthAdjust="spacingAndGlyphs">Odds ratio</text>
<text x="0" y="0" font-size="9" fill="#2e2e2e" stroke="#2e2e2e" stroke-width="0.22" text-anchor="middle" transform="translate(503.6,460) rotate(90)" textLength="82.8" lengthAdjust="spacingAndGlyphs">Simulated misclassification</text>
<line x1="324.5" y1="507.5" x2="324.5" y2="511.3" stroke="#1a1a1a" stroke-width="1"/>
<line x1="356.6" y1="507.5" x2="356.6" y2="511.3" stroke="#1a1a1a" stroke-width="1"/>
<line x1="388.4" y1="507.5" x2="388.4" y2="511.3" stroke="#1a1a1a" stroke-width="1"/>
<line x1="420.4" y1="507.5" x2="420.4" y2="511.3" stroke="#1a1a1a" stroke-width="1"/>
<line x1="456.7" y1="507.5" x2="456.7" y2="511.3" stroke="#1a1a1a" stroke-width="1"/>
<rect x="277.5" y="511.3" width="29.5" height="12.9" fill="#fff" stroke="#333" stroke-width="1"/>
<text x="292.25" y="520.0" font-size="6.6" text-anchor="middle" fill="#3a3a3a" font-weight="normal" textLength="19.6" lengthAdjust="spacingAndGlyphs" stroke="#3a3a3a" stroke-width="0.1">minAD</text>
<rect x="311.2" y="511.3" width="26.30000000000001" height="12.9" fill="#1a4884" stroke="#2a2a2a" stroke-width="1"/>
<text x="324.35" y="519.3" font-size="6.4" text-anchor="middle" fill="#c8dcf4" font-weight="normal" stroke="#c8dcf4" stroke-width="0.22">3</text>
<rect x="343.0" y="511.3" width="26.5" height="12.9" fill="#6574ac" stroke="#2a2a2a" stroke-width="1"/>
<text x="356.25" y="519.3" font-size="6.4" text-anchor="middle" fill="#dde4f6" font-weight="normal" stroke="#dde4f6" stroke-width="0.22">4</text>
<rect x="375.0" y="511.3" width="26.19999999999999" height="12.9" fill="#6db3e5" stroke="#2a2a2a" stroke-width="1"/>
<text x="388.1" y="519.3" font-size="6.4" text-anchor="middle" fill="#1c3a64" font-weight="normal" stroke="#1c3a64" stroke-width="0.22">5</text>
<rect x="407.0" y="511.3" width="26.19999999999999" height="12.9" fill="#b9d8f1" stroke="#2a2a2a" stroke-width="1"/>
<text x="420.1" y="519.3" font-size="6.4" text-anchor="middle" fill="#2a4a74" font-weight="normal" stroke="#2a4a74" stroke-width="0.22">6</text>
<rect x="443.0" y="511.3" width="27.0" height="12.9" fill="#a9bf7c" stroke="#2a2a2a" stroke-width="1"/>
<text x="456.5" y="519.3" font-size="6.4" text-anchor="middle" fill="#5e7436" font-weight="normal" textLength="11" lengthAdjust="spacingAndGlyphs" stroke="#5e7436" stroke-width="0.22">≥ 5</text>
<rect x="0" y="0" width="520" height="1" fill="#5a5a5a"/>
<rect x="0" y="0" width="1" height="531" fill="#5a5a5a"/>
<rect x="519" y="0" width="1" height="531" fill="#3e3e3e"/>
<rect x="0" y="530" width="520" height="1" fill="#3e3e3e"/>
</svg>
</body></html>
